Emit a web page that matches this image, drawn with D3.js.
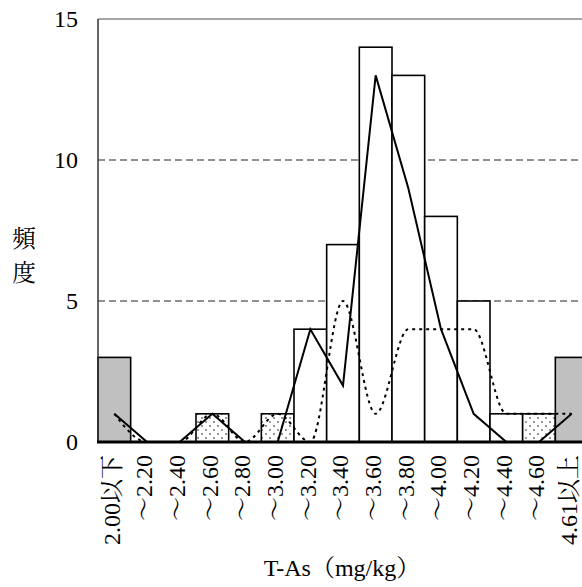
<!DOCTYPE html>
<html>
<head>
<meta charset="utf-8">
<script src="https://cdn.jsdelivr.net/npm/d3@7/dist/d3.min.js"></script>
<style>
  html, body { margin: 0; padding: 0; background: #fff; overflow: hidden; }
  svg { display: block; }
</style>
</head>
<body>
<svg id="chart" width="582" height="587"></svg>
<script>
// ---- data ----
const categories = ["2.00以下","〜2.20","〜2.40","〜2.60","〜2.80","〜3.00","〜3.20","〜3.40","〜3.60","〜3.80","〜4.00","〜4.20","〜4.40","〜4.60","4.61以上"];
const barValues  = [3, 0, 0, 1, 0, 1, 4, 7, 14, 13, 8, 5, 1, 1, 3];
const barGroup   = ["tail","main","main","rare","main","rare","main","main","main","main","main","main","main","rare","tail"];
const solidSeries  = [1, 0, 0, 1, 0, 0, 4, 2, 13, 9, 4, 1, 0, 0, 1];
const dottedSeries = [1, 0, 0, 1, 0, 1, 0, 5, 1, 4, 4, 4, 1, 1, 1];
const yTicks = [0, 5, 10, 15];
const xTitle = "T-As（mg/kg）";
const yTitle = ["頻", "度"];

// ---- layout ----
const svg = d3.select("#chart");
const mLeft = 98, mRight = 588, mTop = 19, mBottom = 442;
const FONT = '"Liberation Serif", "Noto Serif CJK JP", monospace';
const CJK = '"Noto Serif CJK JP", monospace';

const x = d3.scaleBand().domain(categories).range([mLeft, mRight]).padding(0);
const y = d3.scaleLinear().domain([0, 15]).range([mBottom, mTop]);

const defs = svg.append("defs");
const pat = defs.append("pattern").attr("id", "dots").attr("patternUnits", "userSpaceOnUse")
  .attr("width", 8).attr("height", 8);
pat.append("rect").attr("width", 8).attr("height", 8).attr("fill", "#fff");
pat.append("circle").attr("cx", 2).attr("cy", 2).attr("r", 0.9).attr("fill", "#666");
pat.append("circle").attr("cx", 6).attr("cy", 6).attr("r", 0.9).attr("fill", "#666");

const fillFor = g => g === "tail" ? "#c0c0c0" : g === "rare" ? "url(#dots)" : "#fff";

// gridlines
svg.append("g").selectAll("line").data(yTicks.filter(t => t > 0)).join("line")
  .attr("x1", mLeft).attr("x2", 582)
  .attr("y1", d => y(d)).attr("y2", d => y(d))
  .attr("stroke", d => d === 15 ? "#888" : "#222")
  .attr("stroke-width", d => d === 15 ? 1.5 : 1)
  .attr("stroke-dasharray", d => d === 15 ? null : "7,4");

// bars
const data = categories.map((c, i) => ({c, v: barValues[i], g: barGroup[i]}));
svg.append("g").selectAll("rect").data(data.filter(d => d.v > 0)).join("rect")
  .attr("x", d => x(d.c))
  .attr("y", d => y(d.v))
  .attr("width", x.bandwidth())
  .attr("height", d => y(0) - y(d.v))
  .attr("fill", d => fillFor(d.g))
  .attr("stroke", "#000")
  .attr("stroke-width", 1.6);

// lines
const cx = c => x(c) + x.bandwidth() / 2;
const dottedLine = d3.line().x((d, i) => cx(categories[i])).y(d => y(d)).curve(d3.curveMonotoneX);
svg.append("path").datum(dottedSeries).attr("d", dottedLine)
  .attr("fill", "none").attr("stroke", "#000").attr("stroke-width", 2)
  .attr("stroke-dasharray", "3,4");

const solidLine = d3.line().x((d, i) => cx(categories[i])).y(d => y(d));
svg.append("path").datum(solidSeries).attr("d", solidLine)
  .attr("fill", "none").attr("stroke", "#000").attr("stroke-width", 2);

// axes lines
svg.append("line").attr("x1", mLeft).attr("x2", mLeft).attr("y1", mTop).attr("y2", mBottom)
  .attr("stroke", "#333").attr("stroke-width", 1.5);
svg.append("line").attr("x1", mLeft - 1).attr("x2", 582).attr("y1", mBottom).attr("y2", mBottom)
  .attr("stroke", "#000").attr("stroke-width", 3);

// y axis labels
const yAxis = d3.axisLeft(y).tickValues(yTicks).tickSize(0).tickPadding(20).tickFormat(d3.format("d"));
const yg = svg.append("g").attr("transform", `translate(${mLeft},0)`).call(yAxis)
  .attr("font-family", FONT).attr("font-size", 24);
yg.select(".domain").remove();
yg.selectAll("text").style("font-family", FONT).style("font-size", "24px").attr("fill", "#000");

// x axis labels (rotated)
const xAxis = d3.axisBottom(x).tickSize(0).tickPadding(0);
const xg = svg.append("g").attr("transform", `translate(0,${mBottom})`).call(xAxis)
  .attr("font-family", FONT).attr("font-size", 24);
xg.select(".domain").remove();
xg.selectAll(".tick text")
  .style("font-family", FONT).style("font-size", "24px").attr("fill", "#000")
  .attr("text-anchor", "end")
  .attr("transform", "translate(-3,13) rotate(-90)")
  .attr("x", 0).attr("y", 0).attr("dy", "0.35em");

// titles
svg.append("text").attr("x", 342).attr("y", 576).attr("text-anchor", "middle")
  .style("font-family", FONT).style("font-size", "24px").attr("fill", "#000").text(xTitle);
svg.append("g").selectAll("text").data(yTitle).join("text")
  .attr("x", 24).attr("y", (d, i) => 236 + i * 34)
  .attr("text-anchor", "middle").attr("dominant-baseline", "central")
  .style("font-family", CJK).style("font-size", "24px").attr("fill", "#000").text(d => d);
</script>
</body>
</html>
